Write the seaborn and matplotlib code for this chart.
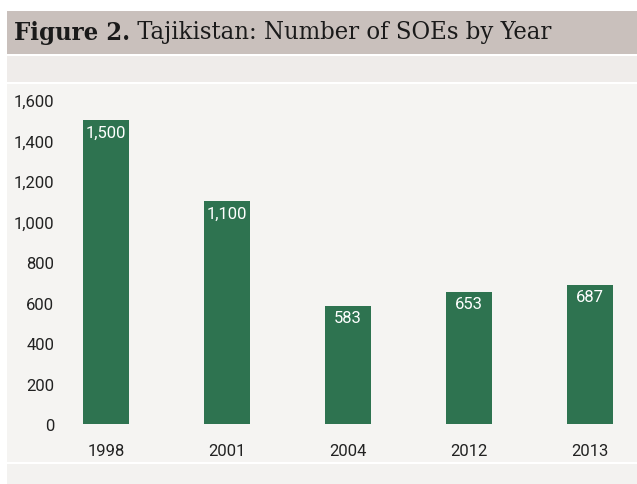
import matplotlib
matplotlib.use("Agg")
import matplotlib.pyplot as plt
from matplotlib.patches import Rectangle
from matplotlib import font_manager
import seaborn as sns
import pandas as pd

years = ["1998", "2001", "2004", "2012", "2013"]
soe_counts = [1500, 1100, 583, 653, 687]
y_ticks = [0, 200, 400, 600, 800, 1000, 1200, 1400, 1600]
title_bold = "Figure 2."
title_rest = " Tajikistan: Number of SOEs by Year"

sns.set_theme(style="white")

installed = {f.name for f in font_manager.fontManager.ttflist}
narrow = "Liberation Sans Narrow" if "Liberation Sans Narrow" in installed else "Roboto"
plt.rcParams["font.family"] = [narrow, "DejaVu Sans"]

W, H = 637, 485
fig = plt.figure(figsize=(W / 100, H / 100), dpi=100)
fig.patch.set_facecolor("white")

def band(y0, y1, color, x0=7, x1=637):
    fig.patches.append(Rectangle((x0 / W, 1 - y1 / H), (x1 - x0) / W, (y1 - y0) / H,
                                 transform=fig.transFigure, facecolor=color,
                                 edgecolor="none", zorder=-5))

band(12, 55, "#c9c0bc")
band(57, 83, "#efecea")
band(85, 463, "#f5f4f2")
band(465, 485, "#f3f2f0")

title_size = 18.3
t = fig.text(14 / W, 1 - 33 / H, title_bold, fontsize=title_size, fontweight="bold",
             family=["DejaVu Serif"], fontstretch="condensed", va="center", ha="left",
             color="#1a1a1a")
fig.canvas.draw()
bb = t.get_window_extent()
fig.text(bb.x1 / W, 1 - 33 / H, title_rest, fontsize=title_size,
         family=["DejaVu Serif"], fontstretch="condensed", va="center", ha="left",
         color="#1a1a1a")

# axes spanning the plot region in pixel terms
x_left, x_right = 60, 630
y_top, y_bottom = 95, 425
ax = fig.add_axes([x_left / W, 1 - y_bottom / H, (x_right - x_left) / W, (y_bottom - y_top) / H])
ax.set_zorder(2)
ax.set_facecolor("none")

df = pd.DataFrame({"year": years, "count": soe_counts})
sns.barplot(data=df, x="year", y="count", color="#2e7350", saturation=1,
            width=0.38, linewidth=0, edgecolor="none", ax=ax)

for i, v in enumerate(soe_counts):
    ax.text(i, v - 22, f"{v:,}", ha="center", va="top", color="white", fontsize=12)

ax.set_xlim(-0.38, 4.33)
ax.set_ylim(0, 1630)
ax.set_yticks(y_ticks)
ax.set_yticklabels([f"{v:,}" for v in y_ticks])
ax.tick_params(axis="both", length=0, labelsize=12, colors="#222222")
ax.tick_params(axis="y", pad=4)
ax.tick_params(axis="x", pad=14)
ax.set_xlabel("")
ax.set_ylabel("")
for s in ax.spines.values():
    s.set_visible(False)

fig.savefig("out.png", dpi=100, facecolor=fig.get_facecolor())
